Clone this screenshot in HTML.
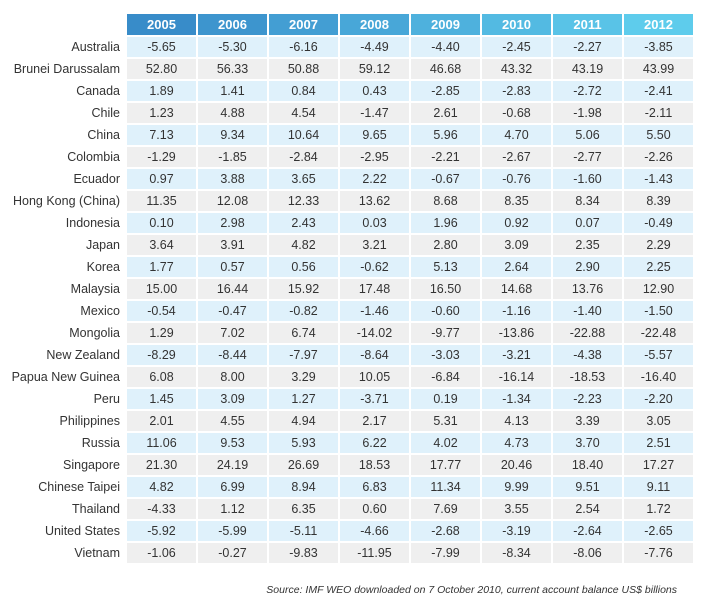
<!DOCTYPE html>
<html><head><meta charset="utf-8"><style>
body{margin:0;width:705px;height:611px;background:#fff;font-family:"Liberation Sans",Arial,sans-serif;position:relative;overflow:hidden}
.c{position:absolute;height:20px;line-height:21px;font-size:12.5px;color:#333;text-align:center}
.h{position:absolute;top:14px;height:21px;line-height:21px;font-size:13px;font-weight:bold;color:#fff;text-align:center}
.l{position:absolute;left:0;width:120px;height:20px;line-height:21px;font-size:12.5px;color:#333;text-align:right}
#src{position:absolute;right:28px;top:584px;font-size:10.5px;font-style:italic;color:#333}
</style></head><body>
<div id="tbl"></div>
<div id="src">Source: IMF WEO downloaded on 7 October 2010, current account balance US$ billions</div>
<script>
const years=["2005","2006","2007","2008","2009","2010","2011","2012"];
const countries=["Australia","Brunei Darussalam","Canada","Chile","China","Colombia","Ecuador","Hong Kong (China)","Indonesia","Japan","Korea","Malaysia","Mexico","Mongolia","New Zealand","Papua New Guinea","Peru","Philippines","Russia","Singapore","Chinese Taipei","Thailand","United States","Vietnam"];
const values=[
["-5.65","-5.30","-6.16","-4.49","-4.40","-2.45","-2.27","-3.85"],
["52.80","56.33","50.88","59.12","46.68","43.32","43.19","43.99"],
["1.89","1.41","0.84","0.43","-2.85","-2.83","-2.72","-2.41"],
["1.23","4.88","4.54","-1.47","2.61","-0.68","-1.98","-2.11"],
["7.13","9.34","10.64","9.65","5.96","4.70","5.06","5.50"],
["-1.29","-1.85","-2.84","-2.95","-2.21","-2.67","-2.77","-2.26"],
["0.97","3.88","3.65","2.22","-0.67","-0.76","-1.60","-1.43"],
["11.35","12.08","12.33","13.62","8.68","8.35","8.34","8.39"],
["0.10","2.98","2.43","0.03","1.96","0.92","0.07","-0.49"],
["3.64","3.91","4.82","3.21","2.80","3.09","2.35","2.29"],
["1.77","0.57","0.56","-0.62","5.13","2.64","2.90","2.25"],
["15.00","16.44","15.92","17.48","16.50","14.68","13.76","12.90"],
["-0.54","-0.47","-0.82","-1.46","-0.60","-1.16","-1.40","-1.50"],
["1.29","7.02","6.74","-14.02","-9.77","-13.86","-22.88","-22.48"],
["-8.29","-8.44","-7.97","-8.64","-3.03","-3.21","-4.38","-5.57"],
["6.08","8.00","3.29","10.05","-6.84","-16.14","-18.53","-16.40"],
["1.45","3.09","1.27","-3.71","0.19","-1.34","-2.23","-2.20"],
["2.01","4.55","4.94","2.17","5.31","4.13","3.39","3.05"],
["11.06","9.53","5.93","6.22","4.02","4.73","3.70","2.51"],
["21.30","24.19","26.69","18.53","17.77","20.46","18.40","17.27"],
["4.82","6.99","8.94","6.83","11.34","9.99","9.51","9.11"],
["-4.33","1.12","6.35","0.60","7.69","3.55","2.54","1.72"],
["-5.92","-5.99","-5.11","-4.66","-2.68","-3.19","-2.64","-2.65"],
["-1.06","-0.27","-9.83","-11.95","-7.99","-8.34","-8.06","-7.76"]];
const tbl=document.getElementById('tbl');
const X0=127,PITCH=71,W=69,Y0=37,RP=22;
const c1=[56,140,201],c2=[94,204,236];
years.forEach((y,i)=>{
 const d=document.createElement('div');
 d.className='h';
 
 
 const t=i/7;
 const col=c1.map((v,k)=>Math.round(v+(c2[k]-v)*t));
 d.style.left=(X0+i*PITCH)+'px';d.style.width=W+'px';
 d.style.background='rgb('+col.join(',')+')';
 d.textContent=y;tbl.appendChild(d);
});
countries.forEach((c,r)=>{
 const top=Y0+r*RP;
 const l=document.createElement('div');
 l.className='l';
 
 
 l.style.top=top+'px';l.textContent=c;tbl.appendChild(l);
 values[r].forEach((v,i)=>{
  const d=document.createElement('div');
  d.className='c';
  
  
  d.style.top=top+'px';d.style.left=(X0+i*PITCH)+'px';d.style.width=W+'px';
  d.style.background=r%2?'#efefef':'#dff1fb';
  d.textContent=v;tbl.appendChild(d);
 });
});
</script>
</body></html>
